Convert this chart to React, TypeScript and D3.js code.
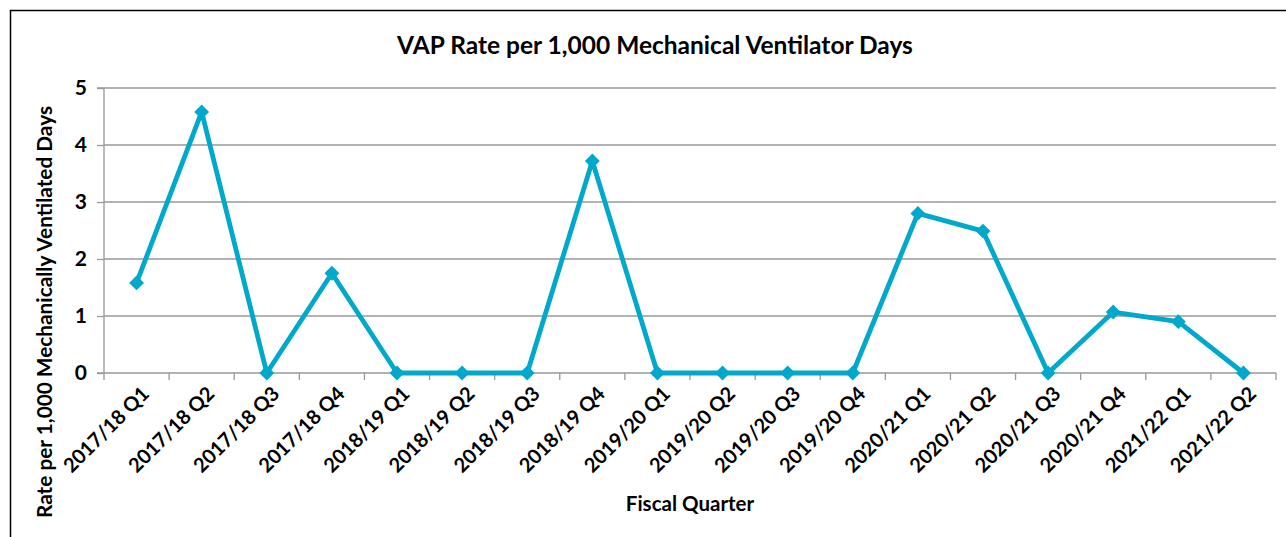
import { useEffect, useRef } from 'react';
import * as d3 from 'd3';

const quarters = [
  '2017/18 Q1', '2017/18 Q2', '2017/18 Q3', '2017/18 Q4',
  '2018/19 Q1', '2018/19 Q2', '2018/19 Q3', '2018/19 Q4',
  '2019/20 Q1', '2019/20 Q2', '2019/20 Q3', '2019/20 Q4',
  '2020/21 Q1', '2020/21 Q2', '2020/21 Q3', '2020/21 Q4',
  '2021/22 Q1', '2021/22 Q2',
];
const vapRate = [1.58, 4.58, 0, 1.75, 0, 0, 0, 3.72, 0, 0, 0, 0, 2.8, 2.49, 0, 1.07, 0.9, 0];
const yTicks = [0, 1, 2, 3, 4, 5];

export default function App() {
  const svgRef = useRef<SVGSVGElement>(null);

  useEffect(() => {
    if (!svgRef.current) return;
    document.body.style.margin = '0';
    const svg = d3.select(svgRef.current);
    svg.selectAll('*').remove();

    const W = 1286, H = 537;
    const left = 104, right = 1276, top = 88, bottom = 373;
    const font = 'Lato, "Open Sans", sans-serif';
    const color = '#00A8CC';

    svg.append('rect').attr('width', W).attr('height', H).attr('fill', '#fff');
    svg.append('rect')
      .attr('x', 10.5).attr('y', 10.5).attr('width', 1300).attr('height', 560)
      .attr('fill', 'none').attr('stroke', '#000').attr('stroke-width', 1.5);

    const x = d3.scaleBand<string>().domain(quarters).range([left, right]);
    const y = d3.scaleLinear().domain([0, 5]).range([bottom, top]);

    // gridlines
    svg.append('g').selectAll('line').data(yTicks.filter(t => t > 0)).join('line')
      .attr('x1', left).attr('x2', right)
      .attr('y1', d => y(d)).attr('y2', d => y(d))
      .attr('stroke', '#999').attr('stroke-width', 1.3);

    // y axis
    const ya = svg.append('g').attr('transform', `translate(${left},0)`)
      .call(d3.axisLeft(y).tickValues(yTicks).tickSize(7).tickPadding(10).tickFormat(d3.format('d')));
    ya.select('.domain').attr('stroke', '#999').attr('stroke-width', 1.3).attr('d', `M-7,${top}H0V${bottom}H-7`);
    ya.selectAll('.tick line').attr('stroke', '#999').attr('stroke-width', 1.3);
    ya.selectAll('.tick text')
      .attr('font-family', font).attr('font-weight', 700).attr('font-size', 21).attr('fill', '#000');

    // x axis
    const xa = svg.append('g').attr('transform', `translate(0,${bottom})`);
    xa.append('line').attr('x1', left).attr('x2', right).attr('y1', 0).attr('y2', 0)
      .attr('stroke', '#999').attr('stroke-width', 1.3);
    const edges = quarters.map(q => x(q) as number).concat([right]);
    xa.selectAll('line.tk').data(edges).join('line').attr('class', 'tk')
      .attr('x1', d => d).attr('x2', d => d).attr('y1', 0).attr('y2', 7)
      .attr('stroke', '#999').attr('stroke-width', 1.3);
    xa.selectAll('text').data(quarters).join('text')
      .attr('transform', d => `translate(${(x(d) as number) + x.bandwidth() / 2 + 9},${17}) rotate(-45)`)
      .attr('text-anchor', 'end')
      .attr('dy', '0.35em')
      .attr('font-family', font).attr('font-weight', 700).attr('font-size', 20).attr('fill', '#000')
      .text(d => d);

    // line + markers
    const cx = (i: number) => (x(quarters[i]) as number) + x.bandwidth() / 2;
    const line = d3.line<number>().x((_, i) => cx(i)).y(d => y(d));
    svg.append('path').datum(vapRate)
      .attr('d', line).attr('fill', 'none').attr('stroke', color)
      .attr('stroke-width', 4.8).attr('stroke-linejoin', 'round');
    svg.append('g').selectAll('path').data(vapRate).join('path')
      .attr('d', d3.symbol(d3.symbolSquare, 110)())
      .attr('transform', (d, i) => `translate(${cx(i)},${y(d)}) rotate(45)`)
      .attr('fill', color);

    // titles
    svg.append('text').attr('x', 655).attr('y', 54).attr('text-anchor', 'middle')
      .attr('font-family', font).attr('font-weight', 700).attr('font-size', 24.5)
      .text('VAP Rate per 1,000 Mechanical Ventilator Days');
    svg.append('text').attr('x', 690).attr('y', 511).attr('text-anchor', 'middle')
      .attr('font-family', font).attr('font-weight', 700).attr('font-size', 20.5)
      .text('Fiscal Quarter');
    svg.append('text').attr('transform', 'translate(52,312) rotate(-90)').attr('text-anchor', 'middle')
      .attr('font-family', font).attr('font-weight', 700).attr('font-size', 20.8)
      .text('Rate per 1,000 Mechanically Ventilated Days');
  }, []);

  return <svg ref={svgRef} width={1286} height={537} style={{ display: 'block' }} />;
}
